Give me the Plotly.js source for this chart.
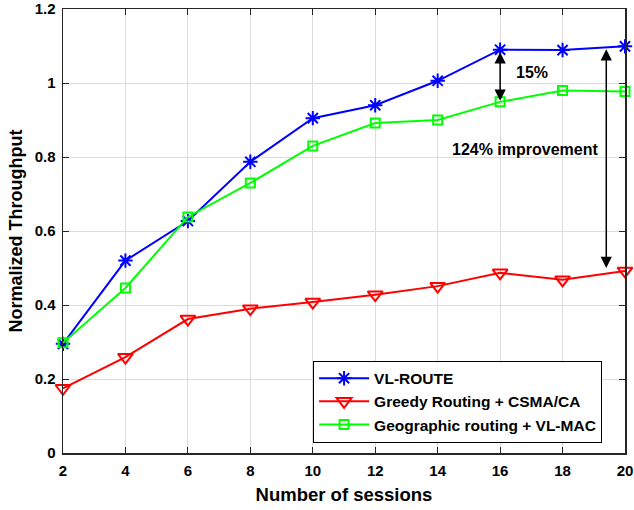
<!DOCTYPE html>
<html><head><meta charset="utf-8">
<script src="https://cdn.plot.ly/plotly-3.0.1.min.js"></script>
<style>html,body{margin:0;padding:0;background:#fff}#plot{width:634px;height:510px}</style>
</head><body><div id="plot"></div>
<script>
const sessions = [2, 4, 6, 8, 10, 12, 14, 16, 18, 20];
const vlRoute = [0.295, 0.52, 0.627, 0.787, 0.905, 0.94, 1.006, 1.09, 1.089, 1.099];
const greedyCsma = [0.175, 0.259, 0.362, 0.39, 0.408, 0.428, 0.451, 0.487, 0.468, 0.492];
const geoVlMac = [0.298, 0.446, 0.638, 0.73, 0.83, 0.892, 0.9, 0.949, 0.98, 0.977];
const seriesNames = ['VL-ROUTE', 'Greedy Routing + CSMA/CA', 'Geographic routing + VL-MAC'];
const xTicks = [2, 4, 6, 8, 10, 12, 14, 16, 18, 20];
const yTicks = [0, 0.2, 0.4, 0.6, 0.8, 1, 1.2];
const yTickText = ['0', '0.2', '0.4', '0.6', '0.8', '1', '1.2'];

const font = 'Liberation Sans, Arial, sans-serif';
const traces = [
  {x: sessions, y: vlRoute, name: seriesNames[0], mode: 'lines+markers', cliponaxis: false,
   line: {color: '#0000ff', width: 2},
   marker: {symbol: 'asterisk-open', size: 12, color: '#0000ff', line: {color: '#0000ff', width: 2}}},
  {x: sessions, y: greedyCsma, name: seriesNames[1], mode: 'lines+markers', cliponaxis: false,
   line: {color: '#ff0000', width: 2},
   marker: {symbol: 'triangle-down-open', size: 13, color: '#ff0000', line: {color: '#ff0000', width: 2}}},
  {x: sessions, y: geoVlMac, name: seriesNames[2], mode: 'lines+markers', cliponaxis: false,
   line: {color: '#00ff00', width: 2},
   marker: {symbol: 'square-open', size: 9, color: '#00ff00', line: {color: '#00ff00', width: 2}}}
];

const axisCommon = {
  showline: true, mirror: 'ticks', linecolor: '#262626', linewidth: 1.5,
  ticks: 'inside', ticklen: 6, tickcolor: '#262626',
  showgrid: true, gridcolor: '#dcdcdc', gridwidth: 1, zeroline: false,
  ticklabelstandoff: 3,
  tickfont: {family: font, size: 15, color: '#000', weight: 'bold'}
};

const layout = {
  width: 634, height: 510,
  margin: {l: 63, r: 9, t: 9, b: 57},
  paper_bgcolor: '#fff', plot_bgcolor: '#fff',
  showlegend: true,
  legend: {x: 0.445, y: 0.208, xanchor: 'left', yanchor: 'top',
    bgcolor: '#fff', bordercolor: '#000', borderwidth: 1, itemwidth: 50,
    font: {family: font, size: 15.5, color: '#000', weight: 'bold'}, tracegroupgap: 0},
  xaxis: Object.assign({}, axisCommon, {
    range: [2, 20], tickvals: xTicks,
    title: {text: 'Number of sessions', font: {family: font, size: 18.5, color: '#000', weight: 'bold'}, standoff: 10}
  }),
  yaxis: Object.assign({}, axisCommon, {
    range: [0, 1.2], tickvals: yTicks, ticktext: yTickText,
    title: {text: 'Normalized Throughput', font: {family: font, size: 18, color: '#000', weight: 'bold'}, standoff: 7}
  }),
  annotations: [
    {x: 16, y: 0.952, ax: 16, ay: 1.087, xref: 'x', yref: 'y', axref: 'x', ayref: 'y',
     showarrow: true, arrowhead: 2, startarrowhead: 2, arrowside: 'end+start',
     arrowsize: 1.5, startarrowsize: 1.5, arrowwidth: 1.5, arrowcolor: '#000', text: ''},
    {x: 19.4, y: 0.5, ax: 19.4, ay: 1.095, xref: 'x', yref: 'y', axref: 'x', ayref: 'y',
     showarrow: true, arrowhead: 2, startarrowhead: 2, arrowside: 'end+start',
     arrowsize: 1.5, startarrowsize: 1.5, arrowwidth: 1.5, arrowcolor: '#000', text: ''},
    {x: 16.45, y: 1.028, xref: 'x', yref: 'y', xanchor: 'left', yanchor: 'middle', showarrow: false,
     text: '15%', font: {family: font, size: 16, color: '#000', weight: 'bold'}},
    {x: 16.8, y: 0.82, xref: 'x', yref: 'y', xanchor: 'center', yanchor: 'middle', showarrow: false,
     text: '124% improvement', font: {family: font, size: 16, color: '#000', weight: 'bold'}}
  ]
};

Plotly.newPlot('plot', traces, layout, {displayModeBar: false, staticPlot: true});
</script></body></html>
